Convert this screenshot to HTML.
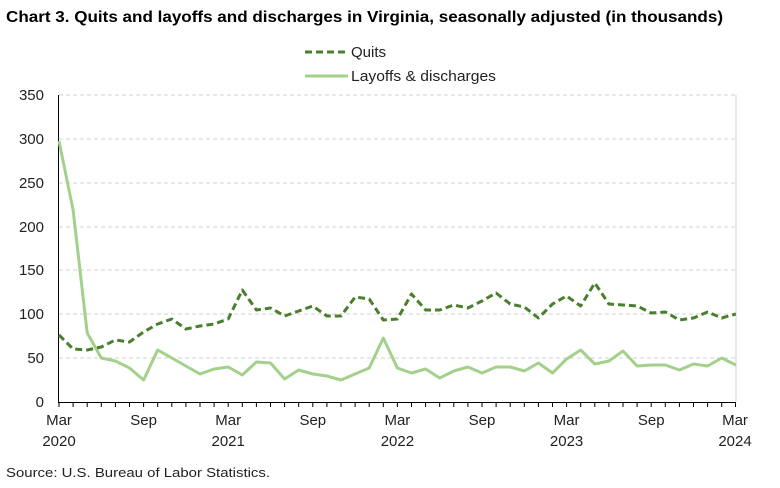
<!DOCTYPE html>
<html><head><meta charset="utf-8"><style>
body{margin:0;background:#fff;}
svg{display:block;font-family:"Liberation Sans",sans-serif;}
</style></head><body>
<svg width="780" height="488" viewBox="0 0 780 488">
<text x="6" y="22" font-size="16" font-weight="bold" fill="#000" textLength="717" lengthAdjust="spacingAndGlyphs">Chart 3. Quits and layoffs and discharges in Virginia, seasonally adjusted (in thousands)</text>
<line x1="305" y1="52" x2="348" y2="52" stroke="#4a7f2e" stroke-width="3" stroke-dasharray="7,4"/>
<text x="351" y="57" font-size="15" fill="#222">Quits</text>
<line x1="305" y1="76" x2="348" y2="76" stroke="#a3d18b" stroke-width="3"/>
<text x="351" y="81" font-size="15" fill="#222" textLength="145" lengthAdjust="spacingAndGlyphs">Layoffs &amp; discharges</text>
<g stroke="#d0d0d0" stroke-width="1" stroke-dasharray="4,3">
<line x1="59" y1="95" x2="736" y2="95"/><line x1="59" y1="139" x2="736" y2="139"/><line x1="59" y1="183" x2="736" y2="183"/><line x1="59" y1="227" x2="736" y2="227"/><line x1="59" y1="270" x2="736" y2="270"/><line x1="59" y1="314" x2="736" y2="314"/><line x1="59" y1="358" x2="736" y2="358"/>
</g>
<line x1="736" y1="95" x2="736" y2="402" stroke="#d0d0d0"/>
<line x1="58.5" y1="95" x2="58.5" y2="402" stroke="#000"/>
<line x1="58" y1="402.5" x2="736" y2="402.5" stroke="#000"/>
<g stroke="#000" stroke-width="1">
<path d="M59 402v5M73.1 402v5M87.2 402v5M101.3 402v5M115.4 402v5M129.5 402v5M143.6 402v5M157.7 402v5M171.8 402v5M185.9 402v5M200 402v5M214.1 402v5M228.2 402v5M242.3 402v5M256.4 402v5M270.5 402v5M284.6 402v5M298.7 402v5M312.8 402v5M326.9 402v5M341 402v5M355.1 402v5M369.2 402v5M383.3 402v5M397.4 402v5M411.5 402v5M425.6 402v5M439.7 402v5M453.8 402v5M467.9 402v5M482 402v5M496.1 402v5M510.2 402v5M524.3 402v5M538.4 402v5M552.5 402v5M566.6 402v5M580.7 402v5M594.8 402v5M608.9 402v5M623 402v5M637.1 402v5M651.2 402v5M665.3 402v5M679.4 402v5M693.5 402v5M707.6 402v5M721.7 402v5M735.5 402v5"/>
</g>
<g font-size="15" fill="#222" text-anchor="end">
<text x="44" y="100">350</text><text x="44" y="144">300</text><text x="44" y="188">250</text><text x="44" y="232">200</text><text x="44" y="275">150</text><text x="44" y="319">100</text><text x="44" y="363">50</text><text x="44" y="407">0</text>
</g>
<g font-size="15" fill="#222" text-anchor="middle">
<text x="59" y="425">Mar</text><text x="59" y="446">2020</text>
<text x="143.6" y="425">Sep</text>
<text x="228.2" y="425">Mar</text><text x="228.2" y="446">2021</text>
<text x="312.8" y="425">Sep</text>
<text x="397.4" y="425">Mar</text><text x="397.4" y="446">2022</text>
<text x="482" y="425">Sep</text>
<text x="566.6" y="425">Mar</text><text x="566.6" y="446">2023</text>
<text x="651.2" y="425">Sep</text>
<text x="735" y="425">Mar</text><text x="735" y="446">2024</text>
</g>
<polyline fill="none" stroke="#a3d18b" stroke-width="3" stroke-linejoin="round" points="59,141 73.1,210 87.2,333 101.3,358 115.4,361 129.5,368 143.6,380 157.7,350 171.8,358 185.9,366 200,374 214.1,369 228.2,367 242.3,375 256.4,362 270.5,363 284.6,379 298.7,370 312.8,374 326.9,376 341,380 355.1,374 369.2,368 383.3,338 397.4,368 411.5,373 425.6,369 439.7,378 453.8,371 467.9,367 482,373 496.1,367 510.2,367 524.3,371 538.4,363 552.5,373 566.6,359 580.7,350 594.8,364 608.9,361 623,351 637.1,366 651.2,365 665.3,365 679.4,370 693.5,364 707.6,366 721.7,358 735.8,365"/>
<polyline fill="none" stroke="#4a7f2e" stroke-width="3" stroke-dasharray="7,4" stroke-linejoin="round" points="59,335 73.1,349 87.2,350 101.3,347 115.4,340 129.5,342 143.6,332 157.7,324 171.8,319 185.9,329 200,326 214.1,324 228.2,319 242.3,290 256.4,310 270.5,308 284.6,316 298.7,311 312.8,306 326.9,316 341,316 355.1,297 369.2,299 383.3,320 397.4,319 411.5,294 425.6,310 439.7,310 453.8,305 467.9,308 482,301 496.1,293 510.2,304 524.3,307 538.4,318 552.5,304 566.6,296 580.7,306 594.8,283 608.9,304 623,305 637.1,306 651.2,313 665.3,312 679.4,320 693.5,318 707.6,312 721.7,318 735.8,314"/>
<text x="6" y="477" font-size="13" fill="#222" textLength="264" lengthAdjust="spacingAndGlyphs">Source: U.S. Bureau of Labor Statistics.</text>
</svg>
</body></html>
